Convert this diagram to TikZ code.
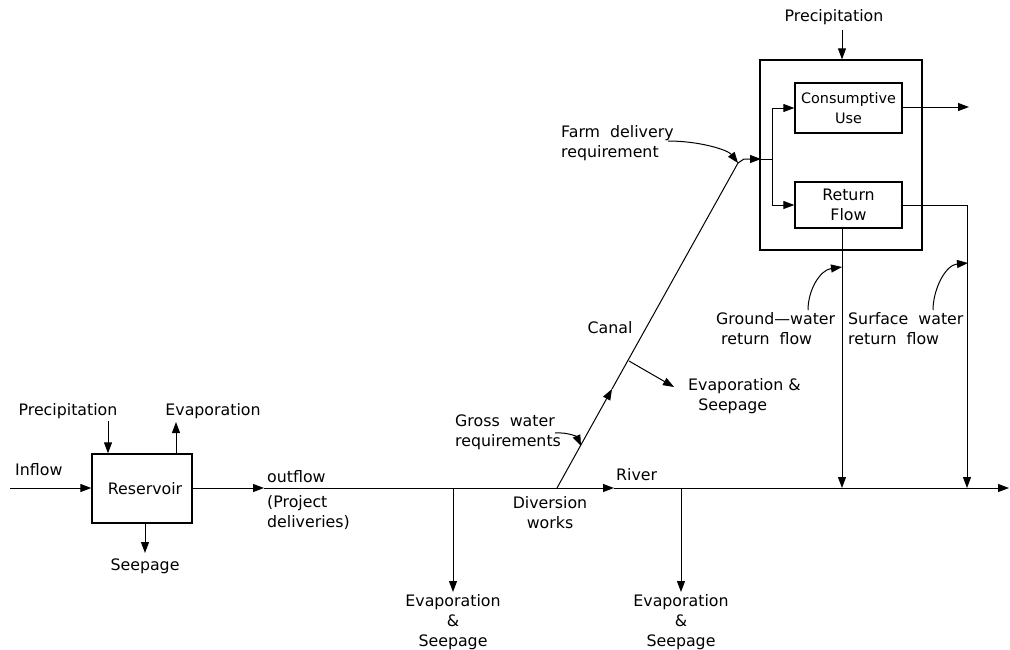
\documentclass[tikz,border=0pt]{standalone}
\usepackage{fontspec}
\setmainfont{DejaVu Sans}
\usetikzlibrary{arrows.meta}
\begin{document}
\begin{tikzpicture}[x=1pt,y=-1pt,
  every node/.style={font=\fontsize{15.8}{20}\selectfont, inner sep=0pt},
  box/.style={draw, line width=1.3pt},
  ln/.style={line width=1pt},
  arr/.style={ln, -{Triangle[length=11pt,width=8pt]}},
  lbl/.style={align=center},
  lbll/.style={align=left}]
\useasboundingbox (0,0) rectangle (1010,649);
% Reservoir
\node[box, minimum width=100pt, minimum height=69pt] (res) at (142,488.5) {};
\node (restxt) at (145,489) {Reservoir};
\node[anchor=west] (inflow) at (15,470) {Inflow};
\coordinate (inL) at (10,488);
\draw[arr] (inL) -- (res.west |- inL);
\node (prec1) at (68,411) {Precipitation};
\coordinate (p1) at (108,421);
\draw[arr] (p1) -- (p1 |- res.north);
\node (evap1) at (213,411) {Evaporation};
\coordinate (e1) at (176,422);
\draw[arr] (e1 |- res.north) -- (e1);
\node (seep1) at (145,566) {Seepage};
\coordinate (s1) at (145,553);
\draw[arr] (s1 |- res.south) -- (s1);
% main line
\coordinate (o1) at (264,488);
\coordinate (b1) at (453,488);
\coordinate (div) at (557,488);
\coordinate (rv) at (614,488);
\coordinate (b2) at (681,488);
\coordinate (g1) at (842,488);
\coordinate (sw1) at (967,488);
\coordinate (rend) at (1009,488);
\draw[arr] (res.east |- o1) -- (o1);
\draw[ln] (o1) -- (div);
\draw[arr] (div) -- (rv);
\draw[arr] (rv) -- (rend);
\node[anchor=west] (outflow) at (267,477) {outflow};
\node[anchor=west, lbll] (proj) at (267,513) {(Project\\deliveries)};
\node[lbl] (divw) at (550,513) {Diversion\\works};
\node[anchor=west] (river) at (616,475) {River};
% bottom branches
\coordinate (b1e) at (453,592);
\coordinate (b2e) at (681,592);
\draw[arr] (b1) -- (b1e);
\draw[arr] (b2) -- (b2e);
\node[lbl, anchor=north] (es1) at (453,594) {Evaporation\\\&\\Seepage};
\node[lbl, anchor=north] (es2) at (681,594) {Evaporation\\\&\\Seepage};
% canal
\coordinate (cA) at (738,163);
\coordinate (cm) at (612,389);
\coordinate (cb) at (629,361);
\coordinate (cbe) at (674,387);
\draw[arr] (div) -- (cm);
\draw[ln] (cm) -- (cA);
\draw[arr] (cb) -- (cbe);
\node (canal) at (610,328) {Canal};
\node[anchor=west, lbll] (es3) at (688,396) {Evaporation \&\\\ \ Seepage};
\node[anchor=west, lbll] (gross) at (455,432) {Gross\ \ water\\requirements};
\coordinate (gt) at (581,446);
\draw[arr] (555,433) .. controls (568,432) and (577,437) .. (gt);
\node[anchor=west, lbll] (farmreq) at (561,143) {Farm\ \ delivery\\requirement};
\draw[arr] (668,141) .. controls (700,141) and (728,150) .. (cA);
% farm
\node[box, minimum width=162pt, minimum height=190pt] (farm) at (841,155) {};
\node[box, minimum width=107pt, minimum height=50pt, lbl, font=\fontsize{14.4}{20}\selectfont] (cu) at (848.5,108) {Consumptive\\Use};
\node[box, minimum width=107pt, minimum height=46pt, lbl] (rf) at (848.5,205) {Return\\Flow};
\node (prec2) at (834,17) {Precipitation};
\coordinate (p2) at (842,30);
\draw[arr] (p2) -- (p2 |- farm.north);
\coordinate (jt) at (761,159);
\coordinate (j) at (772,159);
\draw[arr] (cA) -- ++(6,-4) -- (jt);
\draw[ln] (jt) -- (j);
\coordinate (ju) at (772,108);
\coordinate (jd) at (772,205);
\draw[ln] (ju) -- (jd);
\draw[arr] (ju) -- (cu.west);
\draw[arr] (jd) -- (rf.west);
\coordinate (cuo) at (969,107);
\draw[arr] (cu.east |- cuo) -- (cuo);
\draw[arr] (g1 |- rf.south) -- (g1);
\draw[arr] (rf.east) -- (rf.east -| sw1) -- (sw1);
% return flow labels
\node[anchor=west, lbll] (gw) at (716,329) {Ground---water\\\ return\ \ flow};
\node[anchor=west, lbll] (sw) at (848,329) {Surface\ \ water\\return\ \ flow};
\coordinate (gwt) at (842,267);
\coordinate (swt) at (968,263);
\draw[arr] (808,310) .. controls (808,290) and (820,270) .. (gwt);
\draw[arr] (933,310) .. controls (933,290) and (945,265) .. (swt);
\end{tikzpicture}
\end{document}
